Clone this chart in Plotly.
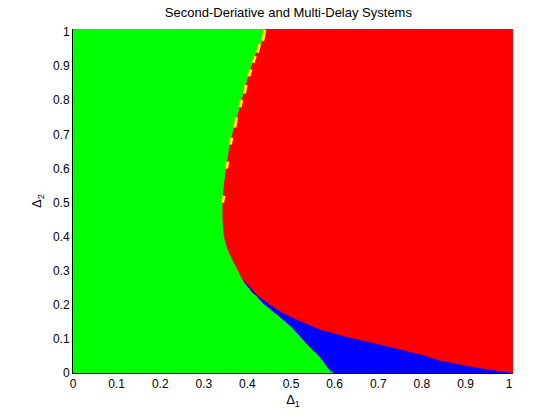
import numpy as np
import plotly.graph_objects as go

# Fronteras (Delta1, Delta2)
# verde / rojo, de arriba hacia el punto triple
gr_x = [0.441, 0.437, 0.425, 0.415, 0.405, 0.395, 0.385, 0.373, 0.362, 0.353,
        0.347, 0.344, 0.344, 0.347, 0.356, 0.367, 0.383, 0.390]
gr_y = [1.009, 0.975, 0.950, 0.920, 0.880, 0.835, 0.790, 0.735, 0.680, 0.610,
        0.550, 0.500, 0.450, 0.400, 0.360, 0.331, 0.293, 0.273]
# verde / azul, del punto triple al eje
gb_x = [0.390, 0.410, 0.436, 0.470, 0.502, 0.539, 0.567, 0.589, 0.600]
gb_y = [0.273, 0.243, 0.205, 0.170, 0.135, 0.082, 0.047, 0.009, 0.000]
# rojo / azul, del punto triple al borde derecho
rb_x = [0.390, 0.413, 0.445, 0.479, 0.521, 0.567, 0.631, 0.700, 0.750, 0.800,
        0.840, 0.880, 0.920, 0.960, 0.985, 1.000]
rb_y = [0.273, 0.235, 0.205, 0.176, 0.150, 0.126, 0.103, 0.083, 0.068, 0.052,
        0.035, 0.025, 0.015, 0.008, 0.002, 0.000]
# puntos amarillos sobre la frontera
yel_x = [0.440, 0.435, None, 0.428, 0.423, None, 0.418, 0.413, None, 0.408, 0.403, None,
         0.397, 0.393, None, 0.387, 0.383, None, 0.375, 0.371, None, 0.364, 0.361, None,
         0.355, 0.352, None, 0.346, 0.343]
yel_y = [1.006, 0.975, None, 0.965, 0.940, None, 0.930, 0.910, None, 0.890, 0.870, None,
         0.845, 0.820, None, 0.800, 0.780, None, 0.750, 0.720, None, 0.690, 0.670, None,
         0.620, 0.600, None, 0.520, 0.500]

ticks = [0, 0.1, 0.2, 0.3, 0.4, 0.5, 0.6, 0.7, 0.8, 0.9, 1]
tick_txt = ['0', '0.1', '0.2', '0.3', '0.4', '0.5', '0.6', '0.7', '0.8', '0.9', '1']

XMAX = 1.009  # los marcadores de matlab sobresalen un poco
YMAX = 1.009

#Poligonos de cada region
green_x = np.concatenate([[0, 0], gr_x, gb_x[1:]])
green_y = np.concatenate([[0, YMAX], gr_y, gb_y[1:]])
red_x = np.concatenate([gr_x, rb_x[1:], [XMAX, XMAX]])
red_y = np.concatenate([gr_y, rb_y[1:], [0, YMAX]])
blue_x = np.concatenate([gb_x, rb_x[::-1]])
blue_y = np.concatenate([gb_y, rb_y[::-1]])

fig = go.Figure()
for px, py, clr in [(green_x, green_y, '#00ff00'), (red_x, red_y, '#ff0000'), (blue_x, blue_y, '#0000ff')]:
    fig.add_trace(go.Scatter(x=px, y=py, fill='toself', fillcolor=clr, mode='lines',
                             line=dict(color=clr, width=1), hoverinfo='skip'))
fig.add_trace(go.Scatter(x=yel_x, y=yel_y, mode='lines',
                         line=dict(color='#ffff00', width=3), hoverinfo='skip'))

fnt = dict(family='Liberation Sans, Arial', size=12, color='black')
ttlfnt = dict(family='Liberation Sans, Arial', size=13, color='black')
lblfnt = dict(family='Liberation Sans, Arial', size=13, color='black')
fig.update_layout(
    width=560, height=420,
    margin=dict(l=73, r=47, t=29, b=47, autoexpand=False),
    plot_bgcolor='white', paper_bgcolor='white',
    showlegend=False,
    font=fnt,
    title=dict(text='Second-Deriative and Multi-Delay Systems', x=0.515, xanchor='center',
               y=1 - 12 / 420, yanchor='middle', font=ttlfnt),
    xaxis=dict(range=[0, XMAX], tickvals=ticks, ticktext=tick_txt, showgrid=False, zeroline=False,
               showline=True, linecolor='black', linewidth=1, ticks='', tickfont=fnt, automargin=False,
               title=dict(text='Δ<sub>1</sub>', font=lblfnt, standoff=4)),
    yaxis=dict(range=[0, YMAX], tickvals=ticks, ticktext=tick_txt, showgrid=False, zeroline=False,
               showline=True, linecolor='black', linewidth=1, ticks='', tickfont=fnt, automargin=False,
               title=dict(text='Δ<sub>2</sub>', font=lblfnt, standoff=8)),
)

# quitando el margen del body para que la figura quede en (0,0)
fig.write_html("out.html", config={'displayModeBar': False},
               post_script="document.body.style.margin='0px';")
